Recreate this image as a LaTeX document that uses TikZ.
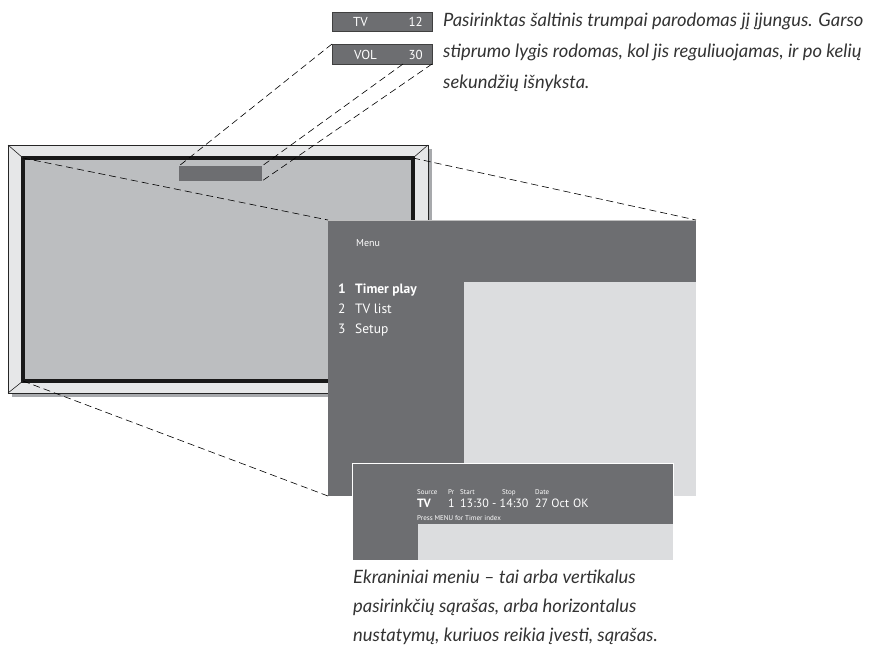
\documentclass[tikz,border=0pt]{standalone}
\usepackage{fontspec}
\setmainfont{PT Sans}
\newfontfamily\capfont{Lato}
\usetikzlibrary{positioning}
\definecolor{osddark}{HTML}{6D6E71}
\definecolor{osdlight}{HTML}{DCDDDF}
\definecolor{screencol}{HTML}{BCBEC0}
\definecolor{bezelcol}{HTML}{E6E7E8}
\definecolor{shadowcol}{HTML}{A7A9AC}
\tikzset{
  panel/.style={fill=osddark,draw=none,inner sep=0,outer sep=0,anchor=north west},
  lightpanel/.style={panel,fill=osdlight},
  projline/.style={dash pattern=on 7pt off 4pt,line width=0.6pt},
  osdtext/.style={text=white,inner sep=0,anchor=base west},
  captext/.style={font=\capfont\itshape\fontsize{18.4}{20}\selectfont,text=black!80,inner sep=0,anchor=base west}
}

\begin{document}
\begin{tikzpicture}[x=1pt,y=-1pt]
  \useasboundingbox (0,0) rectangle (870,646);
  \coordinate (otl) at (8,145);
  \coordinate (otr) at (428,145);
  \coordinate (obl) at (8,393);
  \coordinate (obr) at (428,393);
  \coordinate (itl) at (23,158);
  \coordinate (itr) at (413,158);
  \coordinate (ibl) at (23,381);
  \coordinate (ibr) at (413,381);

  % TV SET
  \fill[shadowcol] (12,149) rectangle (432,397);
  \draw[black!85,fill=bezelcol,line width=1pt] (otl) rectangle (obr);
  \draw[black!90,fill=screencol,line width=3.2pt] (itl) rectangle (ibr);
  \foreach \o/\i in {otl/itl,otr/itr,obl/ibl,obr/ibr}
    \draw[black!85,line width=0.6pt] (\o) -- (\i);
  \node[panel,minimum width=83,minimum height=15] (bar) at (179,166) {};

  % STATUS BOXES
  \node[panel,draw=black!75,line width=0.8pt,minimum width=100,minimum height=19] (tvbox) at (332,12) {};
  \node[panel,draw=black!75,line width=0.8pt,minimum width=100,minimum height=20] (volbox) at (332,44) {};
  \node[osdtext,font=\fontsize{13}{14}\selectfont] at (353,26.5) {TV};
  \node[osdtext,anchor=base east,font=\fontsize{13}{14}\selectfont] at (423,26.5) {12};
  \node[osdtext,font=\fontsize{13}{14}\selectfont] at (354,59) {VOL};
  \node[osdtext,anchor=base east,font=\fontsize{13}{14}\selectfont] at (423,59) {30};
  \coordinate (volmid) at (403,64);
  \draw[projline] (volbox.north west) -- (bar.north west);
  \draw[projline] (volmid) -- (bar.north east);
  \draw[projline] (volbox.south east) -- (bar.south east);

  % MENU PANEL
  \node[panel,minimum width=368,minimum height=276] (menu) at (328,220) {};
  \draw[black!25,line width=0.6pt] (menu.north west) -- (menu.north east);
  \node[lightpanel,minimum width=232,minimum height=214] (menulist) at (464,282) {};
  \draw[projline] (itl) -- (menu.north west);
  \draw[projline] (itr) -- (menu.north east);
  \draw[projline] (ibl) -- (menu.south west);
  \node[osdtext,font=\fontsize{10}{11}\selectfont] (menutitle) at (356,246) {Menu};
  \node[osdtext,font=\bfseries\fontsize{13.5}{15}\selectfont] (n1) at (338,293) {1};
  \node[osdtext,font=\bfseries\fontsize{13.5}{15}\selectfont] (m1) at (355,293) {Timer play};
  \node[osdtext,font=\fontsize{13.5}{15}\selectfont] (n2) at (338,313) {2};
  \node[osdtext,font=\fontsize{13.5}{15}\selectfont] (m2) at (355,313) {TV list};
  \node[osdtext,font=\fontsize{13.5}{15}\selectfont] (n3) at (338,333) {3};
  \node[osdtext,font=\fontsize{13.5}{15}\selectfont] (m3) at (355,333) {Setup};

  % TIMER PANEL
  \node[panel,draw=white,line width=0.8pt,minimum width=321,minimum height=97] (timer) at (352,463) {};
  \node[lightpanel,minimum width=255,minimum height=36] (timerlist) at (418,524) {};
  \foreach \x/\t in {417/Source,448/Pr,460/Start,502/Stop,535/Date}
    \node[osdtext,font=\fontsize{7}{8}\selectfont] at (\x,494) {\t};
  \node[osdtext,font=\bfseries\fontsize{12}{13}\selectfont] at (417,507) {TV};
  \foreach \x/\t in {448/1,460/13:30 - 14:30,535/27 Oct,573/OK}
    \node[osdtext,font=\fontsize{12}{13}\selectfont] at (\x,507) {\t};
  \node[osdtext,font=\fontsize{7}{8}\selectfont] at (417,520) {Press MENU for Timer index};

  % CAPTIONS
  \node[captext] (capa1) at (443,26) {Pasirinktas šaltinis trumpai parodomas jį įjungus. Garso};
  \node[captext] (capa2) at (443,57) {stiprumo lygis rodomas, kol jis reguliuojamas, ir po kelių};
  \node[captext] (capa3) at (443,88) {sekundžių išnyksta.};
  \node[captext] (capb1) at (353,583) {Ekraniniai meniu – tai arba vertikalus};
  \node[captext] (capb2) at (353,612) {pasirinkčių sąrašas, arba horizontalus};
  \node[captext] (capb3) at (353,641) {nustatymų, kuriuos reikia įvesti, sąrašas.};
\end{tikzpicture}
\end{document}
